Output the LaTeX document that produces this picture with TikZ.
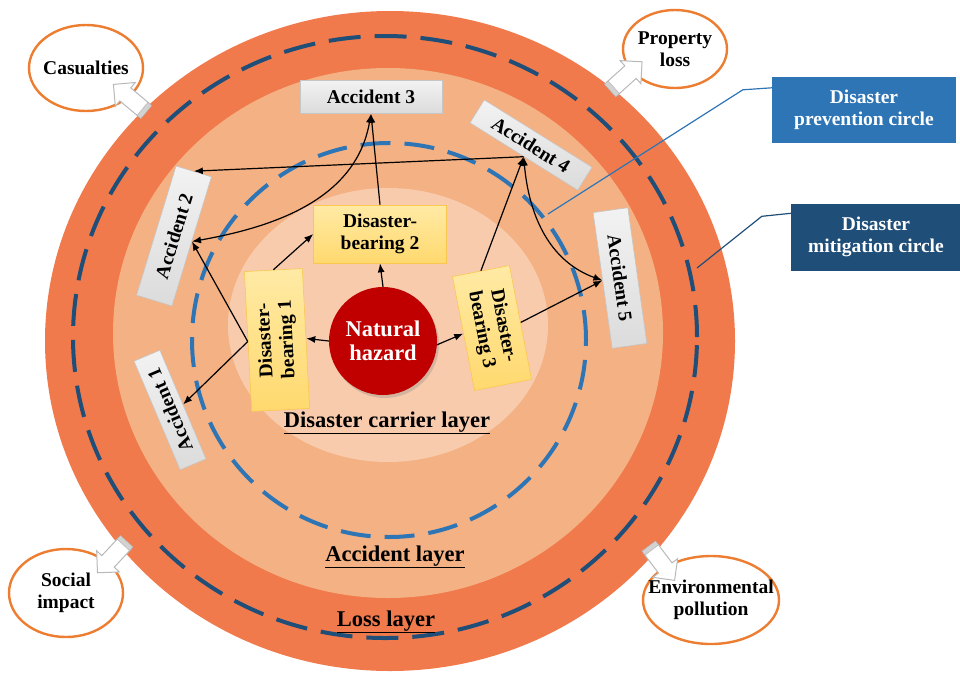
\documentclass[tikz,border=0pt]{standalone}
\usepackage{fontspec}
\setmainfont{Liberation Serif}
\usetikzlibrary{arrows.meta, shapes.geometric, shapes.arrows, shadows}

\definecolor{losscol}{RGB}{240,122,76}
\definecolor{accidentcol}{RGB}{244,177,131}
\definecolor{carriercol}{RGB}{248,203,173}
\definecolor{prevblue}{RGB}{46,117,182}
\definecolor{mitiblue}{RGB}{31,78,121}
\definecolor{hazardred}{RGB}{192,0,0}
\definecolor{ringorange}{RGB}{237,125,49}
\definecolor{beartop}{RGB}{255,234,165}
\definecolor{bearbot}{RGB}{255,217,110}
\definecolor{bearedge}{RGB}{250,200,80}

\tikzset{
	txt/.style = {font = \fontsize{19.5}{22}\selectfont\bfseries},
	layertxt/.style = {font = \fontsize{22.5}{24}\selectfont\bfseries},
	accident/.style = {txt, draw = gray!45, top color = gray!10, bottom color = gray!28, inner sep = 0pt, line width = 0.6pt},
	bearing/.style = {txt, draw = bearedge, top color = beartop, bottom color = bearbot, align = center, inner sep = 0pt, minimum height = 58pt, line width = 0.6pt},
	loss/.style = {txt, ellipse, draw = ringorange, line width = 2.4pt, fill = white, align = center, inner xsep = -15pt, inner ysep = 0pt},
	outarrow/.style = {single arrow, draw = gray!55, fill = white, line width = 1pt, minimum height = 40pt, inner sep = 8pt, single arrow head extend = 7pt},
	outbase/.style = {draw = gray!60, fill = gray!35, minimum width = 5pt, minimum height = 17pt, inner sep = 0pt},
	circlebox/.style = {txt, text = white, align = center, inner sep = 0pt},
	link/.style = {->, line width = 1.2pt}
}

\begin{document}
\begin{tikzpicture}[> = {Latex[length = 9pt, width = 7pt]}, x = 1pt, y = -1pt]

	\useasboundingbox (0,0) rectangle (960,673);

	% Layers

	\fill [losscol] (390,341) ellipse [x radius = 345pt, y radius = 330pt];
	\draw [mitiblue, line width = 4pt, dash pattern = on 32pt off 14pt] (385,337) ellipse [x radius = 312pt, y radius = 301pt];
	\fill [accidentcol] (388,333) ellipse [x radius = 275pt, y radius = 265pt];
	\fill [carriercol] (388,325) ellipse [x radius = 160pt, y radius = 137pt];
	\draw [prevblue, line width = 4pt, dash pattern = on 30pt off 14pt] (389,340) circle [radius = 197pt];

	\node [layertxt, anchor = base] (carrierlbl) at (387,427) {\underline{Disaster carrier layer}};
	\node [layertxt, anchor = base] (accidentlbl) at (395,561) {\underline{Accident layer}};
	\node [layertxt, anchor = base] (losslbl) at (386,626) {\underline{Loss layer}};

	% Hazard and disaster-bearing bodies

	\node [circle, fill = hazardred, minimum size = 108pt, circlebox, layertxt,
		drop shadow = {opacity = 0.3, shadow xshift = 2pt, shadow yshift = -3pt}] (hazard) at (383,341) {Natural\\hazard};

	\node [bearing, minimum width = 140pt, rotate = 93] (bear1) at (277,340) {Disaster-\\bearing 1};
	\node [bearing, minimum width = 133pt] (bear2) at (380,234) {Disaster-\\bearing 2};
	\node [bearing, minimum width = 116pt, rotate = -79] (bear3) at (492,328) {Disaster-\\bearing 3};

	% Accidents

	\node [accident, minimum width = 118pt, minimum height = 28pt, rotate = 113] (acc1) at (170,410) {Accident 1};
	\node [accident, minimum width = 135pt, minimum height = 37pt, rotate = 73] (acc2) at (174,236) {Accident 2};
	\node [accident, minimum width = 142pt, minimum height = 33pt] (acc3) at (371,97) {Accident 3};
	\node [accident, minimum width = 127pt, minimum height = 27pt, rotate = -32] (acc4) at (531,145) {Accident 4};
	\node [accident, minimum width = 137pt, minimum height = 35pt, rotate = -82] (acc5) at (620,278) {Accident 5};

	% Chains

	\draw [link] (hazard.north) -- (bear2.south);
	\draw [link] (hazard.west) -- (bear1.south);
	\draw [link] (hazard.-4) -- (bear3.south);
	\draw [link] (bear1.east) -- (bear2.west);
	\draw [link] (bear1.north) -- (acc2.south);
	\draw [link] (bear1.north) -- (acc1.south);
	\draw [link] (bear2.north) -- (acc3.south);
	\draw [link, <->] (acc3.south) to [out = -100, in = 10] (acc2.south);
	\draw [link] (acc4.south) -- (acc2.east);
	\draw [link] (bear3.west) -- (acc4.south);
	\draw [link, <->] (acc4.south) to [out = -85, in = 160] (acc5.south);
	\draw [link] (bear3.north) -- (acc5.south);

	% Losses

	\node [loss, minimum width = 114pt, minimum height = 86pt] (casualties) at (86,68) {Casualties};
	\node [loss, minimum width = 104pt, minimum height = 78pt] (property) at (675,49) {Property\\loss};
	\node [loss, minimum width = 114pt, minimum height = 88pt] (social) at (66,593) {Social\\impact};
	\node [loss, minimum width = 136pt, minimum height = 88pt] (environment) at (711,600) {Environmental\\pollution};

	\node [outarrow, rotate = 140] (casarrow) at (132,100) {};
	\node [outbase, rotate = 140] (casbase) at (casarrow.tail) {};
	\node [outarrow, rotate = 42] (proparrow) at (624,78) {};
	\node [outbase, rotate = 42] (propbase) at (proparrow.tail) {};
	\node [outarrow, rotate = 227] (socarrow) at (114,555) {};
	\node [outbase, rotate = 227] (socbase) at (socarrow.tail) {};
	\node [outarrow, rotate = -53] (envarrow) at (660,561) {};
	\node [outbase, rotate = -53] (envbase) at (envarrow.tail) {};

	% Circles

	\node [circlebox, fill = prevblue, minimum width = 184pt, minimum height = 66pt] (prevbox) at (864,110) {Disaster\\prevention circle};
	\node [circlebox, fill = mitiblue, minimum width = 170pt, minimum height = 67pt] (mitibox) at (876,237) {Disaster\\mitigation circle};

	\coordinate (prevend) at (548,214);
	\coordinate (mitiend) at (697,268);
	\draw [prevblue, line width = 1.2pt] ([yshift = -11pt]prevbox.north west) -- ++(-29,2) -- (prevend);
	\draw [mitiblue, line width = 1.2pt] ([yshift = -10pt]mitibox.north west) -- ++(-29,3) -- (mitiend);

\end{tikzpicture}
\end{document}
